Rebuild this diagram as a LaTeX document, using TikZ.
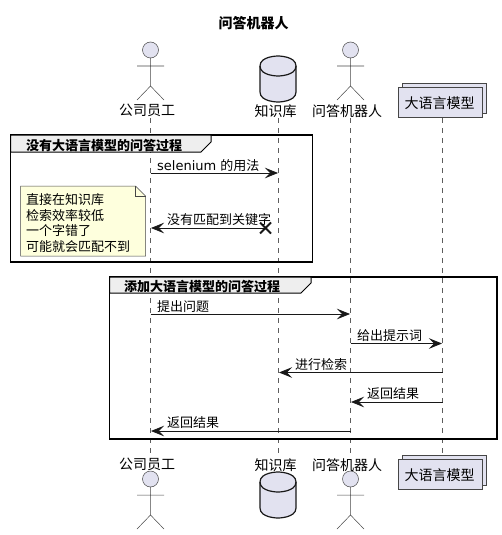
\documentclass[tikz,border=0pt]{standalone}
\usepackage{fontspec}
\setmainfont{Noto Sans CJK SC}
\newfontfamily\latinfont{DejaVu Sans}
\usetikzlibrary{arrows.meta,positioning,calc}
\definecolor{partfill}{HTML}{E2E2F0}
\definecolor{linecol}{HTML}{181818}
\definecolor{notefill}{HTML}{FEFFDD}
\definecolor{tabfill}{HTML}{EEEEEE}
\newcommand{\msgfont}{\fontsize{13}{15.5}\selectfont}
\newcommand{\partfont}{\fontsize{14}{16}\selectfont}

\begin{document}
\begin{tikzpicture}[x=1pt,y=-1pt,>={Stealth[length=13pt,width=10.5pt,inset=5pt]},
 life/.style={draw=linecol!70,line width=0.5pt,dash pattern=on 5pt off 5pt},
 part/.style={draw=linecol!80,fill=partfill,line width=0.5pt},
 msg/.style={->,draw=linecol,line width=0.8pt,shorten >=0.5pt},
 lbl/.style={anchor=west,inner sep=0pt,yshift=-0.8pt,font=\msgfont,text=black},
 plbl/.style={inner sep=0pt,yshift=-0.8pt,font=\partfont,text=black},
 frm/.style={draw=black,line width=1.5pt},
 tab/.style={draw=black,fill=tabfill,line width=1pt},
 ftitle/.style={anchor=west,inner sep=0pt,yshift=-0.8pt,font=\msgfont\bfseries,text=black}]
\useasboundingbox (0,0) rectangle (501,535);
\node[inner sep=0pt,font=\partfont\bfseries] (title) at (253.5,23.5) {问答机器人};
% lifelines first, everything else sits on top
\foreach \p/\x in {emp/150.5,kb/278.5,bot/350.5,llm/442.5} {
  \coordinate (\p) at (\x,118);
  \coordinate (\p e) at (\x,456);
  \draw[life] (\p) -- (\p e);
}
% stick figures, top and bottom row
\foreach \x/\y in {150.5/0,350.5/0,150.5/429,350.5/429} {
  \begin{scope}[shift={(\x,\y)}]
    \draw[part] (0,50) circle (8);
    \draw[draw=linecol!80,line width=0.5pt] (0,58) -- (0,86) (-13.5,66) -- (13.5,66) (-13.5,100) -- (0,86) -- (13.5,100);
  \end{scope}
}
% database, top and bottom row
\foreach \y in {0,416} {
  \begin{scope}[shift={(278,\y)}]
    \draw[part,draw=linecol,line width=1.2pt] (-18,66) .. controls (-18,56) and (0,56) .. (0,56) .. controls (0,56) and (18,56) .. (18,66)
      -- (18,92) .. controls (18,102) and (0,102) .. (0,102) .. controls (0,102) and (-18,102) .. (-18,92) -- cycle;
    \draw[draw=linecol,line width=1.2pt] (-18,66) .. controls (-18,76) and (0,76) .. (0,76) .. controls (0,76) and (18,76) .. (18,66);
  \end{scope}
}
% stacked boxes
\foreach \y in {0,372} {
  \draw[part,line width=0.8pt] (402.5,83+\y) rectangle (486.5,113+\y);
  \draw[part,line width=0.8pt] (398.5,87+\y) rectangle (482.5,117+\y);
}
\node[plbl] (empt) at (147,110) {公司员工};
\node[plbl] (kbt) at (275.5,110) {知识库};
\node[plbl] (bott) at (347,110) {问答机器人};
\node[plbl] (llmt) at (439.5,102) {大语言模型};
\node[plbl] (empb) at (147,464) {公司员工};
\node[plbl] (kbb) at (275.5,464) {知识库};
\node[plbl] (botb) at (347,464) {问答机器人};
\node[plbl] (llmb) at (439.5,474) {大语言模型};
% first group
\draw[frm] (10.5,135) rectangle (312.5,262);
\draw[tab] (10.5,135) -- (211,135) -- (211,142) -- (201,152) -- (10.5,152) -- cycle;
\node[ftitle] (g1) at (26,144.5) {没有大语言模型的问答过程};
\draw[msg] (emp |- 0,173) -- (kb |- 0,173);
\node[lbl] (m1) at (157,165) {{\latinfont selenium }的用法};
\coordinate (lost) at (265.5,228);
\draw[msg] (lost) -- (emp |- lost);
\draw[draw=linecol,line width=2pt] ($(lost)+(-5.5,-5.5)$) -- ($(lost)+(5.5,5.5)$) ($(lost)+(-5.5,5.5)$) -- ($(lost)+(5.5,-5.5)$);
\node[lbl] (m2) at (167,219) {没有匹配到关键字};
\draw[draw=linecol!80,fill=notefill,line width=0.5pt] (20.5,186) -- (135.5,186) -- (145.5,196) -- (145.5,256) -- (20.5,256) -- cycle;
\draw[draw=linecol!80,line width=0.5pt] (135.5,186) -- (135.5,196) -- (145.5,196);
\node[lbl,align=left] (note) at (26,222.5) {直接在知识库\\检索效率较低\\一个字错了\\可能就会匹配不到};
% second group
\draw[frm] (109.5,277) rectangle (497,439);
\draw[tab] (109.5,277) -- (311,277) -- (311,283) -- (301,293) -- (109.5,293) -- cycle;
\node[ftitle] (g2) at (124,285.5) {添加大语言模型的问答过程};
\draw[msg] (emp |- 0,314) -- (bot |- 0,314);
\node[lbl] (m3) at (157,306) {提出问题};
\draw[msg] (bot |- 0,343.5) -- (llm |- 0,343.5);
\node[lbl] (m4) at (357,335) {给出提示词};
\draw[msg] (llm |- 0,372.5) -- (kb |- 0,372.5);
\node[lbl] (m5) at (295,364) {进行检索};
\draw[msg] (llm |- 0,402) -- (bot |- 0,402);
\node[lbl] (m6) at (367,393) {返回结果};
\draw[msg] (bot |- 0,431) -- (emp |- 0,431);
\node[lbl] (m7) at (167,422) {返回结果};
\end{tikzpicture}
\end{document}
